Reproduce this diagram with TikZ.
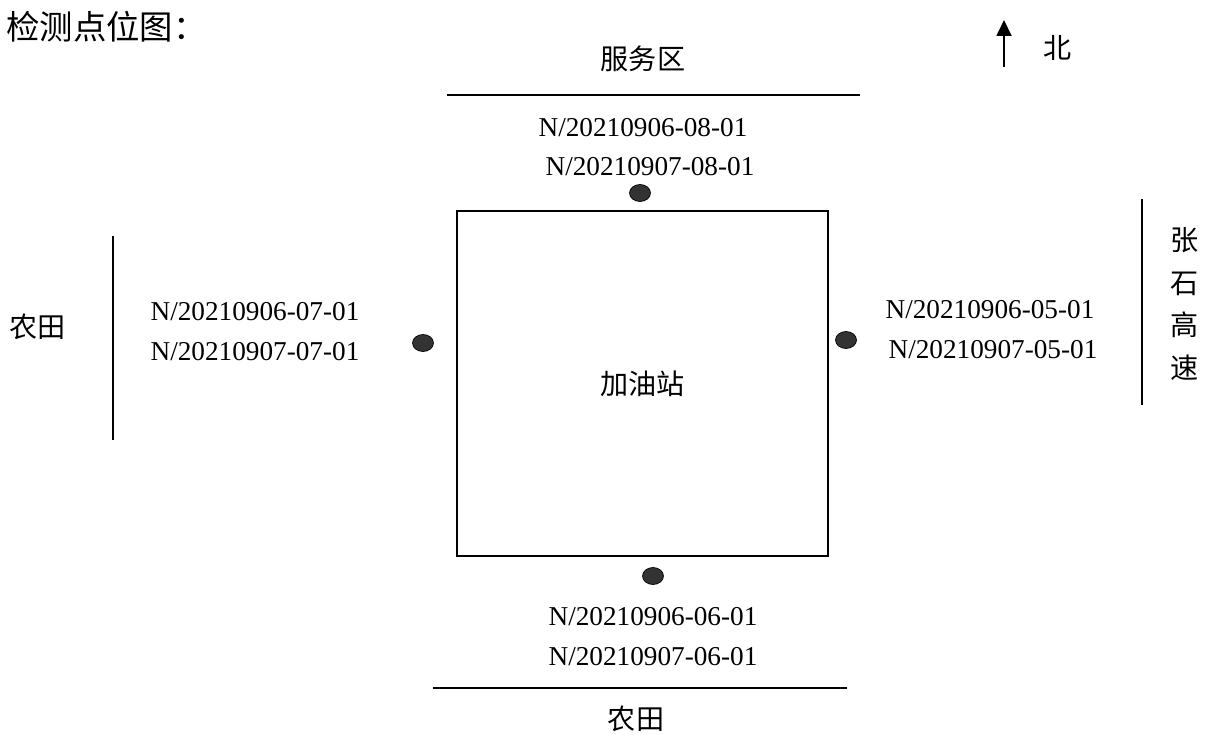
\documentclass[tikz,border=0pt]{standalone}
\usepackage{fontspec}
\setmainfont{Liberation Serif}
\newfontfamily\cjk{Noto Sans CJK SC}
\usetikzlibrary{arrows.meta,shapes.geometric,positioning}

\begin{document}
\begin{tikzpicture}[x=0.02cm, y=-0.02cm,
    sample/.style={ellipse, draw=black, fill=black!80, inner sep=0pt, minimum width=0.42cm, minimum height=0.34cm},
    code/.style={font=\fontsize{15.5}{18}\selectfont, inner sep=0pt},
    cn/.style={font=\cjk\fontsize{16}{18}\selectfont, inner sep=0pt},
    edge/.style={line width=1pt}]
      \useasboundingbox (0,0) rectangle (1216,734);

      % Title
      \node[cn, font=\cjk\fontsize{19}{21}\selectfont, anchor=west] (title) at (6,27) {检测点位图：};

      % North arrow
      \coordinate (nbase) at (1004,67);
      \coordinate (ntip) at (1004,20);
      \draw[edge, -{Triangle[width=0.3cm, length=0.32cm]}] (nbase) -- (ntip);
      \node[cn] (north) at (1058,48) {北};

      % Gas station
      \node[draw, edge, cn, minimum width=7.42cm, minimum height=6.9cm] (station) at (642.5,383.5) {加油站};

      % Surroundings
      \node[cn] (service) at (643,59) {服务区};
      \draw[edge] (447,95) -- (860,95);
      \node[cn] (fieldS) at (636,719) {农田};
      \draw[edge] (433,688) -- (847,688);
      \node[cn] (fieldW) at (38,327) {农田};
      \draw[edge] (113,236) -- (113,440);
      \node[cn, font=\cjk\fontsize{16}{24.4}\selectfont, align=center] (road) at (1185,304) {张\\石\\高\\速};
      \draw[edge] (1142,199) -- (1142,405);

      % Sampling points
      \node[sample] (p08) at (640,193) {};
      \node[sample] (p07) at (423,343) {};
      \node[sample] (p05) at (846,340) {};
      \node[sample] (p06) at (653,576) {};

      % Sample codes
      \node[code] (c08a) at (643,128) {N/20210906-08-01};
      \node[code] (c08b) at (650,167) {N/20210907-08-01};
      \node[code] (c07a) at (255,312) {N/20210906-07-01};
      \node[code] (c07b) at (255,352) {N/20210907-07-01};
      \node[code] (c05a) at (990,310) {N/20210906-05-01};
      \node[code] (c05b) at (993,350) {N/20210907-05-01};
      \node[code] (c06a) at (653,617) {N/20210906-06-01};
      \node[code] (c06b) at (653,657) {N/20210907-06-01};
\end{tikzpicture}
\end{document}
